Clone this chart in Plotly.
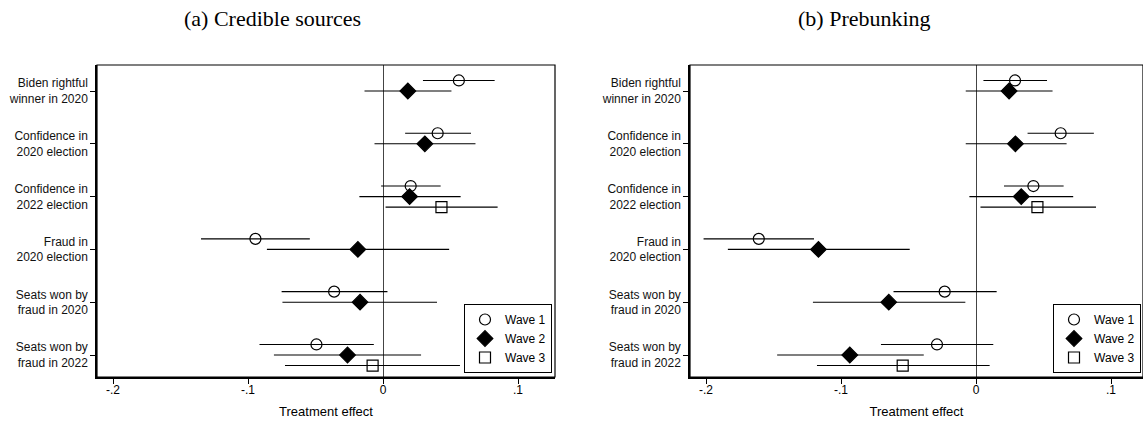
import plotly.graph_objects as go

W, H = 1143, 422

outcomes = [
    "Biden rightful<br>winner in 2020",
    "Confidence in<br>2020 election",
    "Confidence in<br>2022 election",
    "Fraud in<br>2020 election",
    "Seats won by<br>fraud in 2020",
    "Seats won by<br>fraud in 2022",
]
row_pos = [1, 2, 3, 4, 5, 6]

# (a) Credible sources
a_w1_est = [0.0562, 0.0405, 0.0205, -0.0945, -0.0362, -0.0493]
a_w1_lo = [0.0296, 0.0164, -0.0014, -0.1348, -0.0751, -0.0915]
a_w1_hi = [0.0827, 0.0652, 0.0427, -0.0542, 0.0033, -0.0068]
a_w2_est = [0.0184, 0.0310, 0.0197, -0.0186, -0.0170, -0.0263]
a_w2_lo = [-0.0137, -0.0063, -0.0175, -0.0860, -0.0745, -0.0808]
a_w2_hi = [0.0507, 0.0685, 0.0575, 0.0490, 0.0400, 0.0282]
a_w3_est = [None, None, 0.0433, None, None, -0.0077]
a_w3_lo = [None, None, 0.0019, None, None, -0.0726]
a_w3_hi = [None, None, 0.0849, None, None, 0.0570]

# (b) Prebunking
b_w1_est = [0.0289, 0.0627, 0.0425, -0.1609, -0.0232, -0.0289]
b_w1_lo = [0.0055, 0.0382, 0.0207, -0.2018, -0.0611, -0.0704]
b_w1_hi = [0.0526, 0.0873, 0.0649, -0.1200, 0.0153, 0.0128]
b_w2_est = [0.0245, 0.0292, 0.0335, -0.1167, -0.0646, -0.0935]
b_w2_lo = [-0.0076, -0.0076, -0.0049, -0.1838, -0.1208, -0.1473]
b_w2_hi = [0.0567, 0.0671, 0.0720, -0.0491, -0.0079, -0.0387]
b_w3_est = [None, None, 0.0455, None, None, -0.0543]
b_w3_lo = [None, None, 0.0033, None, None, -0.1178]
b_w3_hi = [None, None, 0.0889, None, None, 0.0101]

x_tickvals = [-0.2, -0.1, 0, 0.1]
x_ticktext = ["-.2", "-.1", "0", ".1"]

wave_names = ["Wave 1", "Wave 2", "Wave 3"]
wave_offset = [-0.2, 0.0, 0.2]
wave_symbol = ["circle-open", "diamond", "square-open"]
wave_size = [11, 12, 11]

SANS = "Liberation Sans, Arial, sans-serif"
SERIF = "Liberation Serif, Times New Roman, serif"

fig = go.Figure()

def add_panel(data, xa, ya, legend):
    for k, (est, lo, hi) in enumerate(data):
        xs, ys, ep, em = [], [], [], []
        for i, e in enumerate(est):
            if e is None:
                continue
            xs.append(e)
            ys.append(row_pos[i] + wave_offset[k])
            ep.append(hi[i] - e)
            em.append(e - lo[i])
        fig.add_trace(go.Scatter(
            x=xs, y=ys, mode="markers", name=wave_names[k],
            xaxis=xa, yaxis=ya, legend=legend,
            marker=dict(symbol=wave_symbol[k], size=wave_size[k], color="black",
                        line=dict(color="black", width=1.2)),
            error_x=dict(type="data", symmetric=False, array=ep, arrayminus=em,
                         width=0, color="black", thickness=1.1),
            showlegend=True,
        ))

add_panel([(a_w1_est, a_w1_lo, a_w1_hi), (a_w2_est, a_w2_lo, a_w2_hi),
           (a_w3_est, a_w3_lo, a_w3_hi)], "x", "y", "legend")
add_panel([(b_w1_est, b_w1_lo, b_w1_hi), (b_w2_est, b_w2_lo, b_w2_hi),
           (b_w3_est, b_w3_lo, b_w3_hi)], "x2", "y2", "legend2")

# panel geometry (pixels)
L_left, L_right = 97, 555
R_left = 690
zero_L, zero_R = 383, 976
px_per_unit = 1350.0
top_px, bot_px = 65, 377
row1_px, row6_px = 91, 355
row_px = (row6_px - row1_px) / 5.0
y_top = 1 - (row1_px - top_px) / row_px
y_bot = 6 + (bot_px - row6_px) / row_px

xr_L = [(L_left - zero_L) / px_per_unit, (L_right - zero_L) / px_per_unit]
xr_R = [(R_left - zero_R) / px_per_unit, (W - zero_R) / px_per_unit]

common_x = dict(tickmode="array", tickvals=x_tickvals, ticktext=x_ticktext,
                ticks="outside", ticklen=5, tickcolor="black", tickwidth=1,
                ticklabelstandoff=-4,
                showgrid=False, zeroline=True, zerolinecolor="#444", zerolinewidth=1,
                showline=True, linecolor="black", linewidth=1.5,
                tickfont=dict(family=SANS, size=12, color="black"),
                title=dict(text="Treatment effect", font=dict(family=SANS, size=13, color="black"),
                           standoff=11))
common_y = dict(tickmode="array", tickvals=row_pos, ticktext=outcomes,
                ticks="outside", ticklen=5, tickcolor="black", tickwidth=1,
                showgrid=False, zeroline=False, range=[y_bot, y_top],
                showline=True, linecolor="black", linewidth=1.5,
                tickfont=dict(family=SANS, size=12, color="#111"))

ydom = [1 - bot_px / H, 1 - top_px / H]
leg_common = dict(yanchor="bottom", xanchor="right", bordercolor="black", borderwidth=1,
                  bgcolor="white", font=dict(family=SANS, size=12, color="black"),
                  tracegroupgap=0, itemwidth=30)
fig.update_layout(
    width=W, height=H, margin=dict(l=0, r=0, t=0, b=0),
    plot_bgcolor="white", paper_bgcolor="white",
    xaxis=dict(domain=[L_left / W, L_right / W], range=xr_L, anchor="y", **common_x),
    yaxis=dict(domain=ydom, anchor="x", **common_y),
    xaxis2=dict(domain=[R_left / W, 1.0], range=xr_R, anchor="y2", **common_x),
    yaxis2=dict(domain=ydom, anchor="x2", **common_y),
    legend=dict(x=552 / W, y=1 - 373 / H, **leg_common),
    legend2=dict(x=1141 / W, y=1 - 373 / H, **leg_common),
    showlegend=True,
)

# frame for each panel
for xref, yref in [("x domain", "y domain"), ("x2 domain", "y2 domain")]:
    fig.add_shape(type="rect", xref=xref, yref=yref, x0=0, x1=1, y0=0, y1=1,
                  line=dict(color="black", width=1.2), fillcolor="rgba(0,0,0,0)", layer="above")

fig.add_annotation(text="(a) Credible sources", x=272 / W, y=1 - 19 / H, xref="paper", yref="paper",
                   xanchor="center", yanchor="middle",
                   showarrow=False, font=dict(family=SERIF, size=22, color="black"))
fig.add_annotation(text="(b) Prebunking", x=864 / W, y=1 - 19 / H, xref="paper", yref="paper",
                   xanchor="center", yanchor="middle",
                   showarrow=False, font=dict(family=SERIF, size=22, color="black"))

fig.write_html("out.html", config={"displayModeBar": False},
               post_script="document.body.style.margin='0';document.body.style.overflow='hidden';")
